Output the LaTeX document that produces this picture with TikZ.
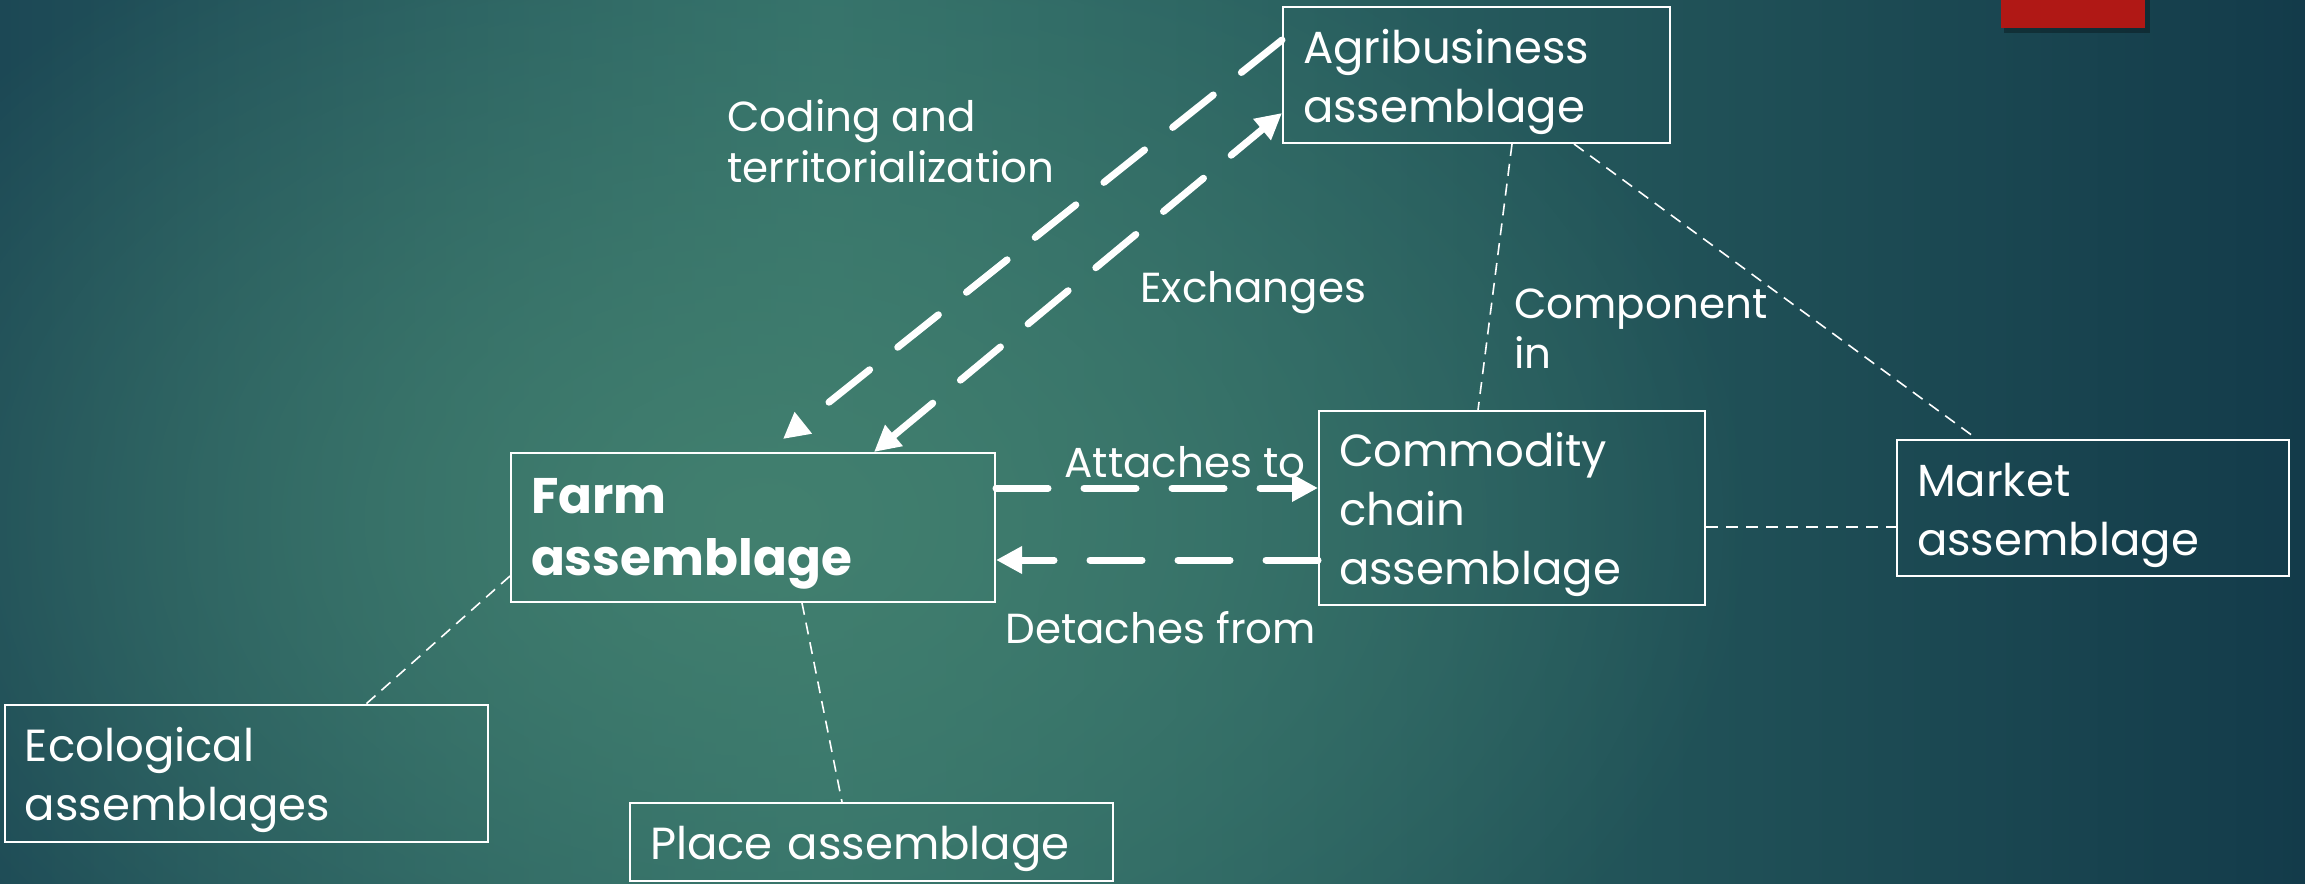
\documentclass[tikz,border=0pt]{standalone}
\usepackage{fontspec}
\setmainfont{Poppins}
\usetikzlibrary{arrows.meta,fadings}
\definecolor{bgleft}{HTML}{1C4855}
\definecolor{bgcentre}{HTML}{33706A}
\definecolor{bgright}{HTML}{133B4A}
\definecolor{glowteal}{HTML}{42806F}
\definecolor{slidered}{HTML}{B01815}
\pgfdeclarehorizontalshading{slidebg}{100bp}{color(0bp)=(bgleft); color(25bp)=(bgleft); color(43bp)=(bgcentre); color(75bp)=(bgright); color(100bp)=(bgright)}
\tikzfading[name=glowfade, inner color=transparent!0, outer color=transparent!100]
\begin{document}
\begin{tikzpicture}[x=0.5pt,y=-0.5pt,
  box/.style={draw=white, line width=1pt, rectangle, text=white, align=left, inner xsep=10pt, inner ysep=0pt, font=\fontsize{22.5}{29.5}\selectfont, execute at begin node={\rule{0pt}{24pt}}},
  lbl/.style={text=white, align=left, anchor=base west, inner sep=0pt, font=\fontsize{21}{25}\selectfont},
  bigarrow/.style={draw=white, line width=3.5pt, line cap=round, dash pattern=on 26pt off 18pt, -{Triangle[length=13pt,width=13pt]}},
  thinlink/.style={draw=white, line width=0.8pt, dash pattern=on 6pt off 4pt}]
\useasboundingbox (0,0) rectangle (2305,883);
% background of the slide
\begin{scope}
\clip (0,0) rectangle (2305,883);
\shade[shading=slidebg] (0,0) rectangle (2305,883);
\fill[glowteal, path fading=glowfade] (760,520) ellipse [x radius=1000, y radius=700];
\fill[black, opacity=0.3] (2004,0) rectangle (2150,33);
\fill[slidered] (2001,0) rectangle (2145,28);
\end{scope}

% the assemblages
\node[box, text width=173.5pt, minimum height=68pt] (agri) at (1476.5,75) {Agribusiness\\assemblage};
\node[box, text width=173pt, minimum height=97pt] (commodity) at (1512,508) {Commodity\\chain\\assemblage};
\node[box, text width=176pt, minimum height=68pt] (market) at (2093,508) {Market\\assemblage};
\node[box, text width=222pt, minimum height=74.5pt, font=\fontsize{25}{31}\selectfont\bfseries] (farm) at (753,527.5) {Farm\\assemblage};
\node[box, text width=221.5pt, minimum height=68.5pt] (eco) at (246.5,773.5) {Ecological\\assemblages};
\node[box, text width=221.5pt, minimum height=39pt] (place) at (871.5,842) {Place assemblage};

% relations
\draw[bigarrow] ([yshift=17.5pt]agri.west) -- ([xshift=15pt,yshift=6.5pt]farm.north);
\draw[bigarrow, {Triangle[length=13pt,width=13pt]}-{Triangle[length=13pt,width=13pt]}] ([xshift=60.5pt]farm.north) -- ([yshift=-19pt]agri.west);
\draw[bigarrow] ([yshift=19.75pt]farm.east) -- ([yshift=19.75pt]farm.east -| commodity.west);
\draw[bigarrow] ([yshift=-26pt]commodity.west) -- ([yshift=-26pt]commodity.west -| farm.east);

\draw[thinlink] ([xshift=17.75pt]agri.south) -- ([xshift=-17pt]commodity.north);
\draw[thinlink] ([xshift=48.75pt]agri.south) -- ([xshift=-58pt]market.north);
\draw[thinlink] ([yshift=-9.5pt]commodity.east) -- ([yshift=-9.5pt]commodity.east -| market.west);
\draw[thinlink] ([yshift=-24.25pt]farm.west) -- ([xshift=59.75pt]eco.north);
\draw[thinlink] ([xshift=24.5pt]farm.south) -- ([xshift=-14.75pt]place.north);

\node[lbl] (coding) at (727,182) {Coding and\\territorialization};
\node[lbl] (exchanges) at (1140,302) {Exchanges};
\node[lbl] (component) at (1514,368) {Component\\in};
\node[lbl] (attaches) at (1064,477) {Attaches to};
\node[lbl] (detaches) at (1005,643) {Detaches from};
\end{tikzpicture}
\end{document}
